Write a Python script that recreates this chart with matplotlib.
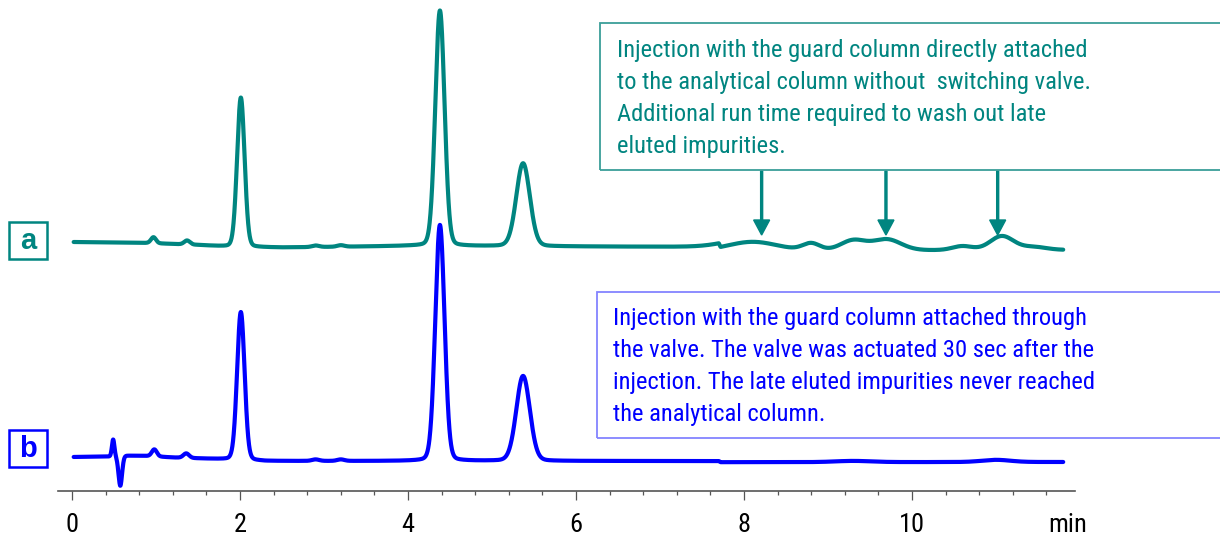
import numpy as np
import matplotlib
matplotlib.use("Agg")
import matplotlib.pyplot as plt
from matplotlib import font_manager
from matplotlib.patches import Rectangle
from matplotlib.ticker import MultipleLocator

# ---------------- data ----------------
t_start, t_end = 0.02, 11.80

# trace a (guard column directly attached) - peak table
a_rt   = [0.97, 1.37, 2.01, 2.90, 3.20, 4.38, 5.37, 8.10, 8.80, 9.30, 9.70, 10.60, 11.07, 11.45]
a_h    = [6.0, 4.0, 149.5, 1.5, 1.5, 235.5, 83.0, 9.0, 7.0, 10.0, 11.0, 4.0, 14.0, 3.0]
a_fwhm = [0.07, 0.08, 0.105, 0.10, 0.10, 0.13, 0.19, 0.70, 0.24, 0.35, 0.40, 0.28, 0.33, 0.35]
a_base_t = [0.00, 0.90, 1.50, 1.90, 2.50, 4.00, 6.00, 7.70, 7.72, 11.80]
a_base_v = [249.0, 248.0, 246.0, 244.0, 243.5, 245.0, 244.5, 244.0, 240.0, 241.0]

# trace b (guard column attached through the valve) - peak table
b_rt   = [0.49, 0.575, 0.98, 1.36, 2.01, 2.90, 3.20, 4.38, 5.37, 9.30, 11.00]
b_h    = [17.0, -30.0, 7.0, 4.5, 148.0, 1.5, 1.5, 236.0, 85.0, 1.2, 2.2]
b_fwhm = [0.035, 0.05, 0.07, 0.08, 0.105, 0.10, 0.10, 0.13, 0.19, 0.50, 0.40]
b_base_t = [0.00, 0.45, 0.65, 0.90, 1.20, 1.70, 2.30, 7.70, 7.72, 11.80]
b_base_v = [34.0, 34.5, 35.5, 35.0, 33.5, 32.0, 30.0, 30.0, 28.8, 29.0]

arrow_t = [8.21, 9.69, 11.02]
x_ticks = [0, 2, 4, 6, 8, 10]
x_tick_labels = ["0", "2", "4", "6", "8", "10"]

text_a = ["Injection with the guard column directly attached",
          "to the analytical column without  switching valve.",
          "Additional run time required to wash out late",
          "eluted impurities."]
text_b = ["Injection with the guard column attached through",
          "the valve. The valve was actuated 30 sec after the",
          "injection. The late eluted impurities never reached",
          "the analytical column."]

TEAL = "#008580"
TEAL_LIGHT = "#3A9E99"
BLUE = "#0000FF"
BLUE_LIGHT = "#8484FF"

# ---------------- font choice: prefer a narrow sans if installed ----------------
names = {f.name for f in font_manager.fontManager.ttflist}
narrow = None
for cand in ["Liberation Sans Narrow", "Arial Narrow", "Roboto Condensed",
             "Open Sans Condensed", "DejaVu Sans Condensed", "Noto Sans Condensed"]:
    if cand in names:
        narrow = cand
        break
stretch = "normal"
if narrow is None:
    for f in font_manager.fontManager.ttflist:
        if f.name in ("Liberation Sans", "Roboto", "Open Sans", "Noto Sans", "DejaVu Sans") \
                and str(f.stretch) in ("condensed", "semi-condensed", "75", "87.5") \
                and f.style == "normal":
            narrow = f.name
            stretch = "condensed"
            break
BASE = narrow if narrow else "Liberation Sans"
FONT = [BASE, "Liberation Sans", "DejaVu Sans"]
plt.rcParams["font.family"] = FONT
plt.rcParams["font.stretch"] = stretch


def trace(t, rts, hs, fwhms, bt, bv):
    y = np.interp(t, bt, bv)
    for rt, h, w in zip(rts, hs, fwhms):
        d = 4.0 * (t - rt) ** 2 / w ** 2
        g = np.exp(-np.log(2) * d)
        l = 1.0 / (1.0 + d)
        y = y + h * (0.9 * g + 0.1 * l)
    return y


t = np.linspace(t_start, t_end, 6000)
ya = trace(t, a_rt, a_h, a_fwhm, a_base_t, a_base_v)
yb = trace(t, b_rt, b_h, b_fwhm, b_base_t, b_base_v)

W, H = 1220, 538
fig = plt.figure(figsize=(W / 100, H / 100), dpi=100)
renderer = fig.canvas.get_renderer()

# size the annotation font so that the first line is as wide as in the reference
probe = fig.text(0, 0, text_a[0], fontsize=18)
pw = probe.get_window_extent(renderer).width
probe.remove()
ann_size = min(19.5, 18 * 470.0 / pw)
probe = fig.text(0, 0, "10", fontsize=18)
pw = probe.get_window_extent(renderer).width
probe.remove()
tick_size = min(19.0, 18 * 27.0 / pw)

ax = fig.add_axes([58 / W, 47 / H, (1075 - 58) / W, 491 / H])
ax.set_xlim(-14 / 84, (1075 - 72) / 84)
ax.set_ylim(0, 491)

ax.plot(t, ya, color=TEAL, lw=3.0, solid_capstyle="round", solid_joinstyle="round")
ax.plot(t, yb, color=BLUE, lw=3.0, solid_capstyle="round", solid_joinstyle="round")

for s in ["left", "top", "right"]:
    ax.spines[s].set_visible(False)
ax.spines["bottom"].set_color("#555555")
ax.spines["bottom"].set_linewidth(1.2)
ax.set_yticks([])
ax.set_xticks(x_ticks)
ax.set_xticklabels(x_tick_labels)
ax.xaxis.set_minor_locator(MultipleLocator(0.4))
ax.tick_params(axis="x", which="major", direction="out", length=6.2, width=0.9,
               color="#555555", labelsize=tick_size, pad=10)
ax.tick_params(axis="x", which="minor", direction="out", length=2.6, width=0.9,
               color="#555555")

fig.text(1068 / W, 1 - 525 / H, "min", ha="center", va="center", fontsize=tick_size)

# arrows (in data units: 84 px per min on x, 1 px per unit on y)
for at in arrow_t:
    ax.arrow(at, 320, 0, -64, width=2.0 / 84, head_width=16 / 84, head_length=15,
             length_includes_head=True, color=TEAL, clip_on=False)

# annotation boxes (figure pixel coords)
def fbox(x0, y0, x1, y1, ec, lw):
    fig.patches.append(Rectangle((x0 / W, 1 - y1 / H), (x1 - x0) / W, (y1 - y0) / H,
                                 transform=fig.transFigure, fill=False,
                                 edgecolor=ec, linewidth=lw))

fbox(600, 23, 1235, 170, TEAL_LIGHT, 1.3)
for i, line in enumerate(text_a):
    fig.text(617 / W, 1 - (51 + 31.7 * i) / H, line, ha="left", va="center",
             fontsize=ann_size, color=TEAL)

fbox(597, 292, 1235, 438, BLUE_LIGHT, 1.3)
for i, line in enumerate(text_b):
    fig.text(613 / W, 1 - (319 + 31.7 * i) / H, line, ha="left", va="center",
             fontsize=ann_size, color=BLUE)

# trace labels
fbox(9, 222, 47, 259, TEAL, 1.8)
fig.text(28 / W, 1 - 241 / H, "a", ha="center", va="center", fontsize=21,
         fontweight="bold", color=TEAL, family=["Liberation Sans", "DejaVu Sans"],
         fontstretch="normal")
fbox(9, 430, 47, 467, BLUE, 1.8)
fig.text(28 / W, 1 - 449 / H, "b", ha="center", va="center", fontsize=21,
         fontweight="bold", color=BLUE, family=["Liberation Sans", "DejaVu Sans"],
         fontstretch="normal")

fig.savefig("out.png", dpi=100)
